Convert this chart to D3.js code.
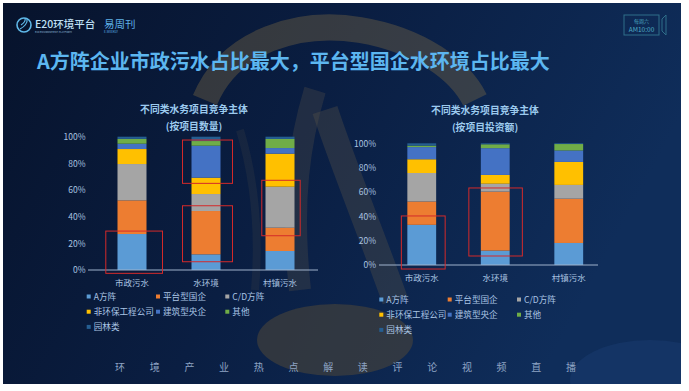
<!DOCTYPE html>
<html><head><meta charset="utf-8">
<script src="https://cdn.jsdelivr.net/npm/d3@7/dist/d3.min.js"></script>
<style>
html,body{margin:0;padding:0;background:#fff;}
svg{display:block;}
text{font-family:"Noto Sans CJK SC","Noto Sans",sans-serif;}
</style></head>
<body>
<svg id="c" width="689" height="391"></svg>
<script>
// ---------- DATA ----------
const categories = ["市政污水", "水环境", "村镇污水"];
const seriesNames = ["A方阵", "平台型国企", "C/D方阵", "非环保工程公司", "建筑型央企", "其他", "园林类"];
const seriesColors = ["#5b9bd5", "#ed7d31", "#a5a5a5", "#ffc000", "#4472c4", "#70ad47", "#255e91"];
const yTicks = [0, 20, 40, 60, 80, 100];
// share (%) by project count, one row per series, one column per category
const countShares = [
  [27.0, 11.75, 14.25],
  [25.25, 32.5, 17.5],
  [27.25, 12.75, 30.75],
  [11.25, 12.25, 24.75],
  [4.0, 24.0, 4.25],
  [3.6, 3.5, 6.8],
  [1.65, 3.25, 1.7]
];
// share (%) by investment amount
const investShares = [
  [33.0, 11.8, 18.1],
  [19.2, 48.5, 36.4],
  [23.4, 6.5, 11.3],
  [11.3, 7.2, 18.9],
  [10.0, 22.0, 9.4],
  [1.2, 3.2, 5.3],
  [1.9, 0.8, 0.6]
];
const chartTitles = ["不同类水务项目竞争主体", "不同类水务项目竞争主体"];
const chartSubtitles = ["(按项目数量)", "(按项目投资额)"];
const countHighlights = [
  {cat: "市政污水", from: -2.5, to: 29.2},
  {cat: "水环境", from: 65, to: 97.5},
  {cat: "水环境", from: 6.2, to: 48.2},
  {cat: "村镇污水", from: 25.7, to: 67.3}
];
const investHighlights = [
  {cat: "市政污水", from: -3.3, to: 40.3},
  {cat: "水环境", from: 7.4, to: 63.3}
];
const mainTitle = "A方阵企业市政污水占比最大，平台型国企水环境占比最大";
const footerChars = ["环","境","产","业","热","点","解","读","评","论","视","频","直","播"];

// ---------- DRAW ----------
const svg = d3.select("#c");
const defs = svg.append("defs");
const bg = defs.append("linearGradient").attr("id", "bg").attr("x1", 0).attr("y1", 0).attr("x2", 1).attr("y2", 0.3);
bg.append("stop").attr("offset", 0).attr("stop-color", "#07132c");
bg.append("stop").attr("offset", 0.5).attr("stop-color", "#0a1e42");
bg.append("stop").attr("offset", 1).attr("stop-color", "#0f2d5a");
const gl = defs.append("linearGradient").attr("id", "gl").attr("x1", 0).attr("x2", 1);
gl.append("stop").attr("offset", 0).attr("stop-color", "#1c5a8a");
gl.append("stop").attr("offset", 1).attr("stop-color", "#3aa0a8");
const gr = defs.append("linearGradient").attr("id", "gr").attr("x1", 0).attr("x2", 1);
gr.append("stop").attr("offset", 0).attr("stop-color", "#3aa0a8");
gr.append("stop").attr("offset", 1).attr("stop-color", "#2a6ec0");
defs.append("clipPath").attr("id", "clip").append("rect").attr("x", 3).attr("y", 3).attr("width", 678).attr("height", 381);

svg.append("rect").attr("x", 3).attr("y", 3).attr("width", 678).attr("height", 381).attr("fill", "url(#bg)");

// decorative swooshes
const deco = svg.append("g").attr("clip-path", "url(#clip)");
deco.append("path").attr("d", "M205,100 C230,40 300,20 360,30 C420,40 460,70 475,100")
  .attr("fill", "none").attr("stroke", "#8a7446").attr("stroke-width", 26).attr("opacity", 0.35);
deco.append("path").attr("d", "M315,90 C300,140 290,200 300,290")
  .attr("fill", "none").attr("stroke", "#5a5448").attr("stroke-width", 22).attr("opacity", 0.3);
deco.append("path").attr("d", "M325,110 C345,170 370,230 395,300")
  .attr("fill", "none").attr("stroke", "#5a5448").attr("stroke-width", 26).attr("opacity", 0.35);
deco.append("path").attr("d", "M240,130 C255,180 260,230 255,290")
  .attr("fill", "none").attr("stroke", "#4a4a46").attr("stroke-width", 8).attr("opacity", 0.2);
deco.append("ellipse").attr("cx", 335).attr("cy", 340).attr("rx", 78).attr("ry", 36)
  .attr("fill", "#4a443a").attr("opacity", 0.6);
deco.append("ellipse").attr("cx", 650).attr("cy", 380).attr("rx", 80).attr("ry", 40)
  .attr("fill", "#1a3c70").attr("opacity", 0.5);

// header
const hdr = svg.append("g");
hdr.append("circle").attr("cx", 24).attr("cy", 25).attr("r", 7).attr("fill", "none").attr("stroke", "#5fb8e8").attr("stroke-width", 1.6);
hdr.append("path").attr("d", "M20,29 C24,27 28,23 27,19 M21,25 C24,23 26,21 25,18").attr("fill", "none").attr("stroke", "#5fb8e8").attr("stroke-width", 1.2);
hdr.append("text").attr("x", 35).attr("y", 27.5).attr("font-size", 10.5).attr("fill", "#bfe0f5").attr("font-weight", 500).text("E20环境平台");
hdr.append("text").attr("x", 35).attr("y", 32.5).attr("font-size", 2.6).attr("fill", "#8fb8d8").text("E20 ENVIRONMENT PLATFORM");
hdr.append("text").attr("x", 104).attr("y", 27.5).attr("font-size", 10.5).attr("fill", "#5fb0e8").text("易周刊");
hdr.append("text").attr("x", 104).attr("y", 33).attr("font-size", 3).attr("fill", "#5fb0e8").text("E-WEEKLY");
hdr.append("rect").attr("x", 624).attr("y", 15).attr("width", 35).attr("height", 20).attr("fill", "none").attr("stroke", "#2f6f8a").attr("stroke-width", 1);
hdr.append("path").attr("d", "M666,15 L662,19 L662,31 L666,35 Z").attr("fill", "none").attr("stroke", "#2f6f8a").attr("stroke-width", 1);
hdr.append("text").attr("x", 641.5).attr("y", 22.5).attr("text-anchor", "middle").attr("font-size", 5).attr("fill", "#4fb0c6").text("每周六");
hdr.append("text").attr("x", 641.5).attr("y", 31.5).attr("text-anchor", "middle").attr("font-size", 6.5).attr("fill", "#4fb0c6").text("AM10:00");
svg.append("text").attr("x", 37).attr("y", 69).attr("font-size", 20).attr("font-weight", 700)
  .attr("fill", "#5cb6f0").text(mainTitle);

// chart builder
function drawChart(opt) {
  const g = svg.append("g");
  const x = d3.scaleBand().domain(categories).range(opt.xRange).paddingInner(0.608).paddingOuter(0.304);
  const y = d3.scaleLinear().domain([0, 100]).range(opt.yRange);
  const rows = categories.map((c, ci) => {
    const r = {cat: c};
    seriesNames.forEach((s, si) => r[s] = opt.values[si][ci]);
    return r;
  });
  const stacked = d3.stack().keys(seriesNames)(rows);
  g.selectAll("g.s").data(stacked).join("g").attr("fill", (d, i) => seriesColors[i])
    .selectAll("rect").data(d => d).join("rect")
    .attr("x", d => x(d.data.cat)).attr("width", x.bandwidth())
    .attr("y", d => y(d[1])).attr("height", d => y(d[0]) - y(d[1]));

  // y axis labels
  const ya = d3.axisLeft(y).tickValues(yTicks).tickFormat(d => d + "%").tickSize(0).tickPadding(0);
  const yg = g.append("g").attr("transform", `translate(${opt.labelRight},0)`).call(ya);
  yg.select(".domain").remove();
  yg.selectAll("text").attr("font-size", 8.5).attr("fill", "#aac3e0").attr("font-family", "'Noto Sans CJK SC',sans-serif");

  // baseline
  g.append("line").attr("x1", opt.axisX[0]).attr("x2", opt.axisX[1]).attr("y1", y(0)).attr("y2", y(0))
    .attr("stroke", "#9fb2cc").attr("stroke-width", 1);

  // category labels
  const xa = d3.axisBottom(x).tickSize(0).tickPadding(0);
  const xg = g.append("g").attr("transform", `translate(0,${y(0) + opt.catDy})`).call(xa);
  xg.select(".domain").remove();
  xg.selectAll("text").attr("font-size", 8.5).attr("fill", "#aac3e0").attr("font-family", "'Noto Sans CJK SC',sans-serif");

  // titles
  g.append("text").attr("x", opt.titleX).attr("y", opt.titleY).attr("text-anchor", "middle")
    .attr("font-size", 9.8).attr("font-weight", 700).attr("fill", "#9ccaee").text(opt.title);
  g.append("text").attr("x", opt.titleX).attr("y", opt.titleY + 17.5).attr("text-anchor", "middle")
    .attr("font-size", 9.8).attr("font-weight", 700).attr("fill", "#9ccaee").text(opt.subtitle);

  // highlight boxes
  opt.highlights.forEach((h, i) => {
    const pad = opt.hlPad[i];
    g.append("rect").attr("x", x(h.cat) - pad[0]).attr("width", x.bandwidth() + pad[0] + pad[1])
      .attr("y", y(h.to)).attr("height", y(h.from) - y(h.to))
      .attr("fill", "none").attr("stroke", "#d42a2a").attr("stroke-width", 1);
  });

  // legend
  const lg = g.append("g");
  seriesNames.forEach((s, i) => {
    const col = i % 3, row = Math.floor(i / 3);
    const lx = opt.legendX[col], ly = opt.legendY + row * 15.2;
    lg.append("rect").attr("x", lx).attr("y", ly - 2).attr("width", 4).attr("height", 4).attr("fill", seriesColors[i]);
    lg.append("text").attr("x", lx + 7).attr("y", ly + 3).attr("font-size", 8.6).attr("fill", "#a9c4e4").text(s);
  });
}

drawChart({
  values: countShares, xRange: [95, 317], yRange: [270, 136.7], labelRight: 85.5, axisX: [88, 318],
  catDy: 10, titleX: 194, titleY: 112.5, title: chartTitles[0], subtitle: chartSubtitles[0],
  highlights: countHighlights, hlPad: [[11.7, 16], [9, 12], [9, 12], [3.7, 5.7]],
  legendX: [86.7, 156, 225.3], legendY: 296.5
});
drawChart({
  values: investShares, xRange: [385, 605.5], yRange: [265, 143.3], labelRight: 376, axisX: [379, 598],
  catDy: 9.5, titleX: 485, titleY: 113.5, title: chartTitles[1], subtitle: chartSubtitles[1],
  highlights: investHighlights, hlPad: [[6, 9], [12, 12.7]],
  legendX: [379.3, 447.7, 517], legendY: 299.5
});

// footer
svg.append("line").attr("x1", 3).attr("x2", 88).attr("y1", 366.7).attr("y2", 366.7).attr("stroke", "url(#gl)").attr("stroke-width", 1.5);
svg.append("line").attr("x1", 603).attr("x2", 681).attr("y1", 366.7).attr("y2", 366.7).attr("stroke", "url(#gr)").attr("stroke-width", 1.5);
const fx = d3.scalePoint().domain(footerChars.map((c, i) => i)).range([120, 571]);
svg.append("g").selectAll("text").data(footerChars).join("text")
  .attr("x", (d, i) => fx(i)).attr("y", 370.5).attr("text-anchor", "middle")
  .attr("font-size", 10).attr("fill", "#8ea4c4").text(d => d);
</script>
</body></html>
